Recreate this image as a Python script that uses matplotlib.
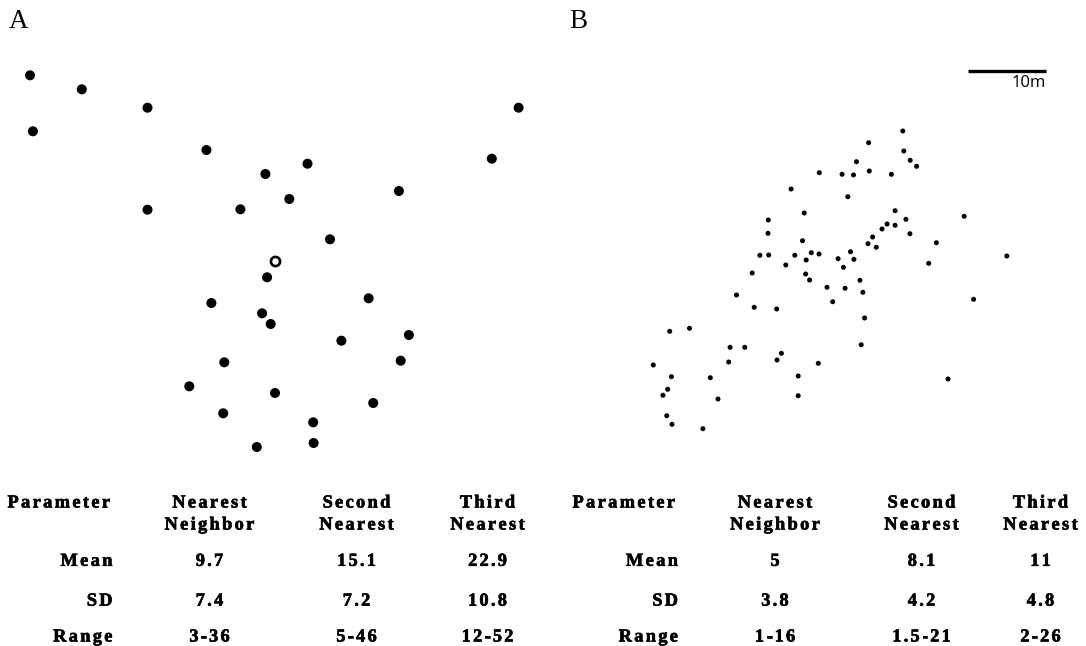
import matplotlib
matplotlib.use("Agg")
import matplotlib.pyplot as plt
import matplotlib.patheffects as pe
from matplotlib.font_manager import FontProperties, findfont

# ---------------- data (positions, pixel units) -------------
a_x = [30.0, 81.8, 147.5, 32.9, 206.4, 307.5, 265.4, 398.9, 289.3, 147.5, 240.4,
       330.0, 267.1, 368.6, 211.4, 262.1, 270.7, 341.4, 408.9, 224.3, 400.7,
       189.3, 275.0, 373.2, 223.2, 313.2, 313.6, 256.8, 518.6, 491.8]
a_y = [75.3, 89.3, 107.7, 131.3, 150.0, 163.7, 174.0, 191.0, 199.0, 209.7, 209.3,
       239.3, 277.3, 298.3, 303.0, 313.3, 324.0, 340.7, 335.0, 362.3, 360.7,
       386.3, 393.0, 403.0, 413.3, 422.3, 443.0, 447.0, 107.7, 158.7]
a_focal_x = [275.4]
a_focal_y = [260.7]

b_x = [902.8, 868.6, 903.8, 910.2, 916.6, 856.5, 819.3, 842.1, 853.5, 869.3, 891.4,
       791.1, 847.8, 804.2, 768.3, 895.1, 905.9, 964.2, 768.0, 887.1, 882.0, 895.1,
       909.9, 802.5, 872.6, 868.0, 876.3, 936.4, 759.9, 768.7, 794.8, 811.3, 819.0,
       806.2, 850.5, 838.1, 853.9, 785.8, 843.5, 928.7, 1006.8, 752.2, 805.6, 809.6,
       859.9, 827.0, 845.1, 862.9, 736.5, 754.2, 776.7, 832.7, 973.6, 864.6, 669.7,
       689.5, 861.2, 730.1, 744.8, 781.4, 777.0, 728.7, 818.3, 653.3, 671.4, 710.3,
       798.2, 948.1, 667.7, 663.0, 718.0, 798.2, 666.7, 672.0, 702.9]
b_y = [131.0, 142.7, 151.0, 160.3, 166.3, 161.7, 172.7, 174.3, 175.0, 171.0, 174.3,
       189.0, 196.7, 213.0, 220.0, 210.7, 219.3, 216.3, 233.3, 224.0, 229.0, 225.3,
       233.7, 240.7, 237.0, 243.7, 247.3, 242.7, 255.3, 255.0, 255.3, 252.7, 254.0,
       260.0, 251.7, 258.7, 259.3, 265.0, 267.3, 263.3, 256.0, 273.0, 274.0, 280.0,
       280.3, 287.3, 288.3, 292.3, 295.0, 307.3, 309.0, 301.7, 299.3, 318.0, 331.3,
       328.3, 344.7, 347.3, 347.3, 353.3, 360.0, 362.0, 363.3, 365.0, 376.7, 377.7,
       376.0, 379.0, 389.3, 395.3, 399.0, 395.7, 415.7, 424.3, 428.7]

scale_label = "10m"
panel_labels = ["A", "B"]
headers = ["Parameter", ["Nearest", "Neighbor"], ["Second", "Nearest"], ["Third", "Nearest"]]
row_labels = ["Mean", "SD", "Range"]
a_values = [["9.7", "15.1", "22.9"],
            ["7.4", "7.2", "10.8"],
            ["3-36", "5-46", "12-52"]]
b_values = [["5", "8.1", "11"],
            ["3.8", "4.2", "4.8"],
            ["1-16", "1.5-21", "2-26"]]

# ---------------- figure ----------------
W, H = 1086, 646
fig = plt.figure(figsize=(W / 100, H / 100), dpi=100)
ax = fig.add_axes([0, 0, 1, 1])
ax.set_xlim(0, W)
ax.set_ylim(H, 0)
ax.axis("off")

# points
ax.scatter(a_x, a_y, s=52, c="black", edgecolors="none", zorder=3)
ax.plot(a_focal_x, a_focal_y, "o", ms=6.6, mfc="white", mec="black", mew=1.9, zorder=3)
ax.scatter(b_x, b_y, s=13, c="black", edgecolors="none", zorder=3)

# scale bar
ax.plot([968, 1046], [71.3, 71.3], color="black", lw=2.4, solid_capstyle="butt")
ax.text(1045.5, 87, scale_label, ha="right", va="baseline", fontsize=12,
        family="Open Sans", color="black")

# panel labels
ax.text(8.5, 28, panel_labels[0], fontsize=19.5, family="Liberation Serif", va="baseline")
ax.text(569, 28, panel_labels[1], fontsize=19.5, family="Liberation Serif", va="baseline")

# tracked bold serif text
TS = 13.2
fp = FontProperties(family="Liberation Serif", weight="bold", size=TS)
is_bold = "Bold" in findfont(fp)
STROKE = 0.45 if is_bold else 1.0
TRACK = 2.3 if is_bold else 2.8
effects = [pe.withStroke(linewidth=STROKE, foreground="black")]
fig.canvas.draw()
renderer = fig.canvas.get_renderer()


def width(s):
    w, h, d = renderer.get_text_width_height_descent(s, fp, ismath=False)
    return w


base_hh = width("HH")
adv_cache = {}


def adv(c):
    if c not in adv_cache:
        adv_cache[c] = width("H" + c + "H") - base_hh
    return adv_cache[c]


def tracked(x, y, s, ha):
    ws = [adv(c) for c in s]
    total = sum(ws) + TRACK * (len(s) - 1)
    if ha == "center":
        x0 = x - total / 2
    elif ha == "right":
        x0 = x - total
    else:
        x0 = x
    for c, w in zip(s, ws):
        ax.text(x0, y, c, fontproperties=fp, ha="left", va="baseline", color="black",
                path_effects=effects)
        x0 += w + TRACK


def table(param_left, label_right, col_centers, values):
    y_h1, y_h2 = 507.5, 529.5
    rows_y = [565.8, 605.6, 641.5]
    tracked(param_left, y_h1, headers[0], "left")
    for cx, hdr in zip(col_centers, headers[1:]):
        tracked(cx, y_h1, hdr[0], "center")
        tracked(cx, y_h2, hdr[1], "center")
    for ry, lab, vals in zip(rows_y, row_labels, values):
        tracked(label_right, ry, lab, "right")
        for cx, v in zip(col_centers, vals):
            tracked(cx, ry, v, "center")


table(7.5, 112.5, [209.5, 356.5, 487.5], a_values)
table(572.5, 678.0, [775.0, 921.5, 1040.5], b_values)

fig.savefig("out.png", dpi=100)
